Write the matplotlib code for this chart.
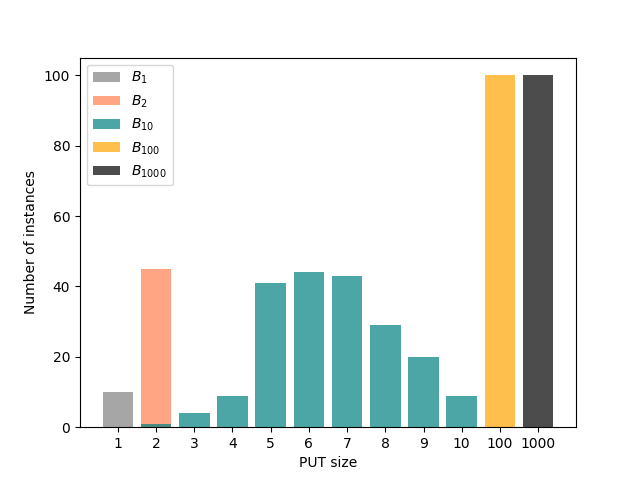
import matplotlib
matplotlib.use("Agg")
import matplotlib.pyplot as plt

sizes = ["1", "2", "3", "4", "5", "6", "7", "8", "9", "10", "100", "1000"]
b1_x = ["1"]; b1_y = [10]
b2_x = ["2"]; b2_y = [45]
b10_x = ["2", "3", "4", "5", "6", "7", "8", "9", "10"]
b10_y = [1, 4, 9, 41, 44, 43, 29, 20, 9]
b100_x = ["100"]; b100_y = [100]
b1000_x = ["1000"]; b1000_y = [100]

fig, ax = plt.subplots(figsize=(6.4, 4.8), dpi=100)
pos = {s: i for i, s in enumerate(sizes)}
ax.bar([pos[s] for s in b1_x], b1_y, color="gray", alpha=0.7, label="$B_1$")
ax.bar([pos[s] for s in b2_x], b2_y, color="coral", alpha=0.7, label="$B_2$")
ax.bar([pos[s] for s in b10_x], b10_y, color="teal", alpha=0.7, label="$B_{10}$")
ax.bar([pos[s] for s in b100_x], b100_y, color="orange", alpha=0.7, label="$B_{100}$")
ax.bar([pos[s] for s in b1000_x], b1000_y, color="black", alpha=0.7, label="$B_{1000}$")
ax.set_xticks(range(len(sizes)))
ax.set_xticklabels(sizes)
ax.set_xlabel("PUT size")
ax.set_ylabel("Number of instances")
ax.legend(loc="upper left")
fig.savefig("out.png")
